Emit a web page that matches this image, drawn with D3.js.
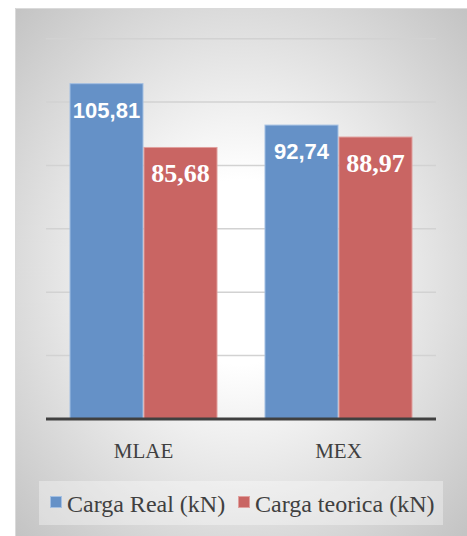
<!DOCTYPE html>
<html>
<head>
<meta charset="utf-8">
<script src="https://cdn.jsdelivr.net/npm/d3@7/dist/d3.min.js"></script>
<style>
  html, body { margin: 0; padding: 0; background: #ffffff; }
  svg { display: block; }
</style>
</head>
<body>
<script>
// Chart data
const categories = ["MLAE", "MEX"];
const seriesNames = ["Carga Real (kN)", "Carga teorica (kN)"];
const cargaReal = [105.81, 92.74];
const cargaTeorica = [85.68, 88.97];
const yTicks = [0, 20, 40, 60, 80, 100, 120];

const seriesValues = [cargaReal, cargaTeorica];
const seriesColors = ["#6591c7", "#c96563"];
const seriesStroke = ["#a3bfe2", "#e0a09e"];
const labelFonts = [
  { family: "'Liberation Sans', Arial, sans-serif", size: 22, dy: 34 },
  { family: "'Liberation Serif', 'Times New Roman', serif", size: 26, dy: 35 }
];

const W = 467, H = 536;
const svg = d3.select("body").append("svg").attr("width", W).attr("height", H);

// Background panel with a soft radial gradient
const defs = svg.append("defs");
const grad = defs.append("radialGradient")
  .attr("id", "panelGrad")
  .attr("cx", "50%").attr("cy", "50%").attr("r", "70%");
grad.append("stop").attr("offset", "0%").attr("stop-color", "#ffffff");
grad.append("stop").attr("offset", "25%").attr("stop-color", "#ffffff");
grad.append("stop").attr("offset", "100%").attr("stop-color", "#c4c4c4");

svg.append("rect")
  .attr("x", 15).attr("y", 8).attr("width", W - 15).attr("height", H - 8)
  .attr("fill", "url(#panelGrad)");
svg.append("path")
  .attr("d", `M15.5,${H} V8.5 H${W}`)
  .attr("fill", "none").attr("stroke", "#dadada").attr("stroke-width", 1);

// Scales
const x0 = d3.scaleBand().domain(categories).range([46, 436])
  .paddingInner(0.241).paddingOuter(0.1205);
const x1 = d3.scaleBand().domain(seriesNames).range([0, x0.bandwidth()]).padding(0);
const y = d3.scaleLinear().domain([0, 120]).range([419, 38.7]);

// Gridlines
svg.append("g")
  .selectAll("line")
  .data(yTicks.filter(d => d > 0))
  .join("line")
  .attr("x1", 46).attr("x2", 436)
  .attr("y1", d => y(d)).attr("y2", d => y(d))
  .attr("stroke", "#d2d2d2").attr("stroke-width", 1.5);

// Bars
const groups = svg.append("g")
  .selectAll("g")
  .data(categories)
  .join("g")
  .attr("transform", c => `translate(${x0(c)},0)`);

groups.selectAll("rect")
  .data((c, i) => seriesNames.map((s, k) => ({ s, k, v: seriesValues[k][i] })))
  .join("rect")
  .attr("x", d => x1(d.s) + 0.5)
  .attr("y", d => y(d.v))
  .attr("width", x1.bandwidth() - 1)
  .attr("height", d => y(0) - y(d.v))
  .attr("fill", d => seriesColors[d.k])
  .attr("stroke", d => seriesStroke[d.k])
  .attr("stroke-width", 1);

// Value labels
groups.selectAll("text")
  .data((c, i) => seriesNames.map((s, k) => ({ s, k, v: seriesValues[k][i] })))
  .join("text")
  .attr("x", d => x1(d.s) + x1.bandwidth() / 2)
  .attr("y", d => y(d.v) + labelFonts[d.k].dy)
  .attr("text-anchor", "middle")
  .attr("fill", "#ffffff")
  .attr("font-weight", "bold")
  .attr("font-family", d => labelFonts[d.k].family)
  .attr("font-size", d => labelFonts[d.k].size)
  .text(d => d3.format(".2f")(d.v).replace(".", ","));

// Baseline
svg.append("line")
  .attr("x1", 46).attr("x2", 436)
  .attr("y1", y(0)).attr("y2", y(0))
  .attr("stroke", "#404040").attr("stroke-width", 3);

// Category axis labels
const xAxis = d3.axisBottom(x0).tickSize(0).tickPadding(0);
const axisG = svg.append("g").attr("transform", "translate(0,440)").call(xAxis);
axisG.select(".domain").remove();
axisG.selectAll("text")
  .attr("dy", 0).attr("y", 18)
  .attr("fill", "#404040")
  .attr("font-family", "'Liberation Serif', 'Times New Roman', serif")
  .attr("font-size", 21);

// Legend
svg.append("rect")
  .attr("x", 39).attr("y", 481).attr("width", 404).attr("height", 44)
  .attr("fill", "#ffffff").attr("fill-opacity", 0.35);

const legendX = [50, 238];
const legend = svg.append("g")
  .selectAll("g")
  .data(seriesNames)
  .join("g")
  .attr("transform", (d, i) => `translate(${legendX[i]},496)`);
legend.append("rect")
  .attr("x", 0.5).attr("y", 0.5).attr("width", 11).attr("height", 11)
  .attr("fill", (d, i) => seriesColors[i])
  .attr("stroke", (d, i) => seriesStroke[i]).attr("stroke-width", 1);
legend.append("text")
  .attr("x", 17).attr("y", 15.5)
  .attr("fill", "#404040")
  .attr("font-family", "'Liberation Serif', 'Times New Roman', serif")
  .attr("font-size", 24)
  .text(d => d);
</script>
</body>
</html>
